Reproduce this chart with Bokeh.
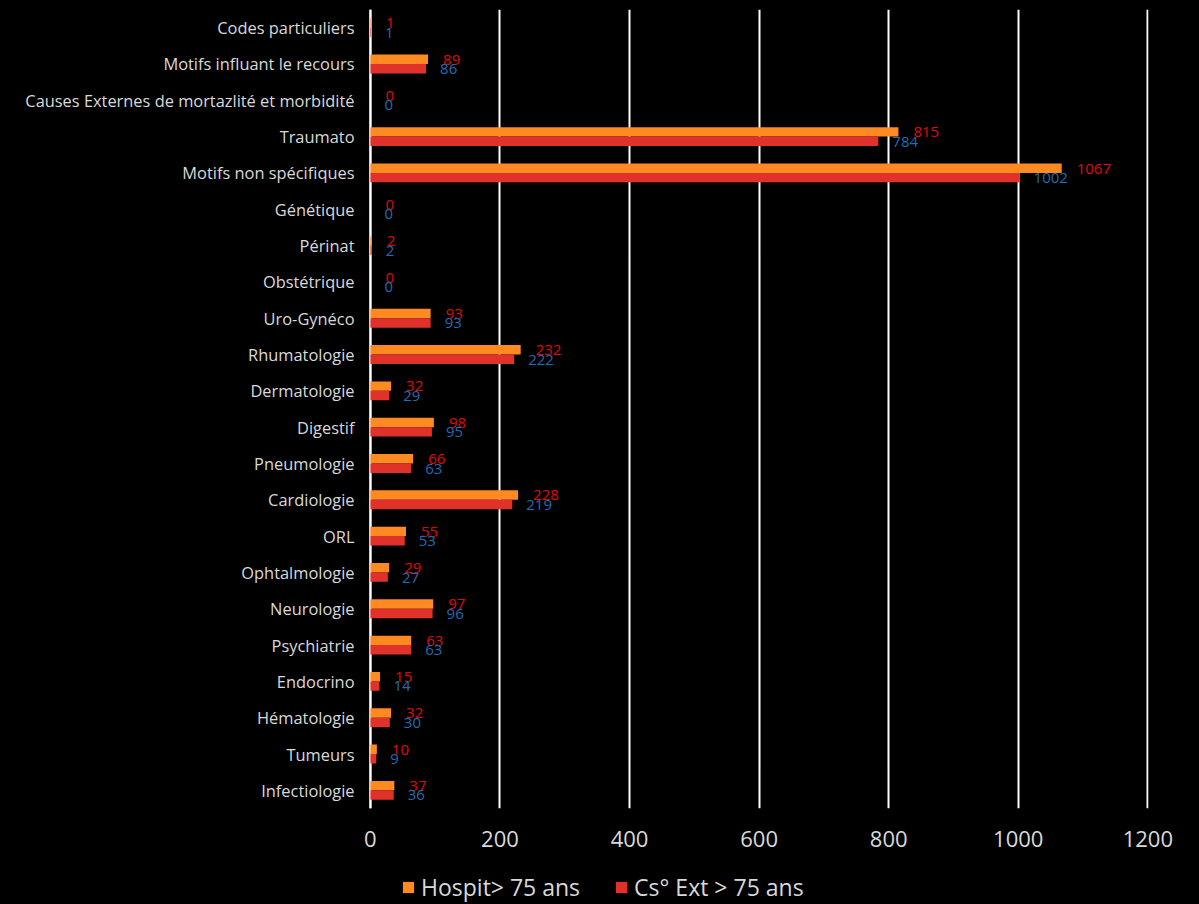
from bokeh.plotting import figure
from bokeh.layouts import column
from bokeh.models import ColumnDataSource, FactorRange, Range1d, Legend, LegendItem, FixedTicker, Span
from bokeh.transform import dodge
from bokeh.core.properties import value
from bokeh.embed import file_html
from bokeh.resources import INLINE

categories = [
    "Codes particuliers",
    "Motifs influant le recours",
    "Causes Externes de mortazlité et morbidité",
    "Traumato",
    "Motifs non spécifiques",
    "Génétique",
    "Périnat",
    "Obstétrique",
    "Uro-Gynéco",
    "Rhumatologie",
    "Dermatologie",
    "Digestif",
    "Pneumologie",
    "Cardiologie",
    "ORL",
    "Ophtalmologie",
    "Neurologie",
    "Psychiatrie",
    "Endocrino",
    "Hématologie",
    "Tumeurs",
    "Infectiologie",
]
hospit = [1, 89, 0, 815, 1067, 0, 2, 0, 93, 232, 32, 98, 66, 228, 55, 29, 97, 63, 15, 32, 10, 37]
csext = [1, 86, 0, 784, 1002, 0, 2, 0, 93, 222, 29, 95, 63, 219, 53, 27, 96, 63, 14, 30, 9, 36]
series_names = ["Hospit> 75 ans", "Cs° Ext > 75 ans"]
x_ticks = [0, 200, 400, 600, 800, 1000, 1200]

FONT = "Open Sans"
ORANGE = "#FF8A22"
RED = "#E0322B"
LBL_RED = "#E00A0A"
LBL_BLUE = "#1F6DB5"
TXT = "#D9D9D9"

source = ColumnDataSource(dict(
    cat=categories,
    hospit=hospit,
    csext=csext,
    hlabel=[str(v) for v in hospit],
    clabel=[str(v) for v in csext],
))

p = figure(
    y_range=FactorRange(factors=categories[::-1]),
    x_range=Range1d(-6, 1201),
    width=1199, height=866,
    output_backend="svg", toolbar_location=None,
    background_fill_color="black", border_fill_color="black",
    outline_line_color=None,
    min_border_left=362, min_border_right=51, min_border_top=9, min_border_bottom=58,
)

r1 = p.hbar(y=dodge("cat", 0.13, range=p.y_range), left=0, right="hospit", height=0.26,
            fill_color=ORANGE, line_color=None, source=source)
r2 = p.hbar(y=dodge("cat", -0.13, range=p.y_range), left=0, right="csext", height=0.26,
            fill_color=RED, line_color=None, source=source)

# zero line
p.add_layout(Span(location=x_ticks[0], dimension="height", line_color="white",
                  line_width=2, level="underlay"))

p.text(x="hospit", y=dodge("cat", 0.12, range=p.y_range), text="hlabel", source=source,
       x_offset=15, text_align="left", text_baseline="middle",
       text_font=value(FONT), text_font_size="15px", text_color=LBL_RED)
p.text(x="csext", y=dodge("cat", -0.14, range=p.y_range), text="clabel", source=source,
       x_offset=14, text_align="left", text_baseline="middle",
       text_font=value(FONT), text_font_size="15px", text_color=LBL_BLUE)

p.xgrid.grid_line_color = "white"
p.xgrid.grid_line_width = 2
p.ygrid.grid_line_color = None
p.xaxis.ticker = FixedTicker(ticks=x_ticks)

for ax in (p.xaxis[0], p.yaxis[0]):
    ax.axis_line_color = None
    ax.major_tick_line_color = None
    ax.minor_tick_line_color = None
    ax.major_tick_out = 0
    ax.major_tick_in = 0
    ax.minor_tick_out = 0
    ax.minor_tick_in = 0
    ax.major_label_text_color = TXT
    ax.major_label_text_font = FONT

p.xaxis.major_label_text_font_size = "22px"
p.xaxis.major_label_standoff = 22
p.yaxis.major_label_text_font_size = "16.4px"
p.yaxis.major_label_standoff = 12

# legend strip below the chart
lg = figure(
    width=1199, height=38, x_range=Range1d(0, 1), y_range=Range1d(0, 1),
    output_backend="svg", toolbar_location=None,
    background_fill_color="black", border_fill_color="black",
    outline_line_color=None, x_axis_location=None, y_axis_location=None,
    min_border_left=366, min_border_right=51, min_border_top=0, min_border_bottom=0,
)
lg.xgrid.grid_line_color = None
lg.ygrid.grid_line_color = None
k1 = lg.hbar(y=[-5], left=[-5], right=[-4], height=0.5, fill_color=ORANGE, line_color=None)
k2 = lg.hbar(y=[-5], left=[-5], right=[-4], height=0.5, fill_color=RED, line_color=None)
legend = Legend(
    items=[LegendItem(label=series_names[0], renderers=[k1]),
           LegendItem(label=series_names[1], renderers=[k2])],
    orientation="horizontal", location=(35, 1),
    label_text_font=FONT, label_text_font_size="23px", label_text_color=TXT,
    glyph_width=14, glyph_height=14, label_standoff=6, spacing=34,
    padding=0, margin=0, background_fill_alpha=0, border_line_color=None,
)
lg.add_layout(legend, "center")

layout = column(p, lg, spacing=0)
html = file_html(layout, INLINE)
html = html.replace("</head>", "<style>html,body{background:#000 !important;overflow:hidden;}</style></head>", 1)
open("out.html", "w").write(html)
